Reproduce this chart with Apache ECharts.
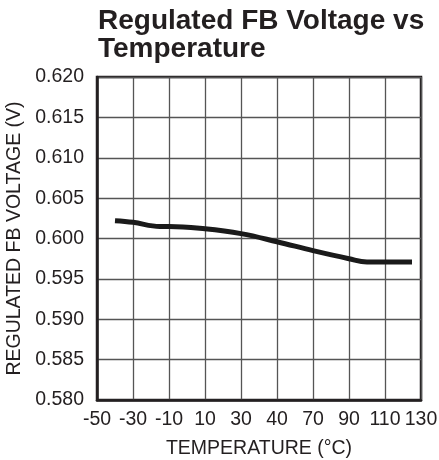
<!DOCTYPE html>
<html>
<head>
<meta charset="utf-8">
<script src="https://cdn.jsdelivr.net/npm/echarts@6/dist/echarts.min.js"></script>
<style>html,body{margin:0;padding:0;background:#fff}#c{width:439px;height:460px}</style>
</head>
<body>
<div id="c"></div>
<script>
var titleText = "Regulated FB Voltage vs\nTemperature";
var xTickLabels = ["-50", "-30", "-10", "10", "30", "40", "70", "90", "110", "130"];
var yTickLabels = ["0.580", "0.585", "0.590", "0.595", "0.600", "0.605", "0.610", "0.615", "0.620"];
var temperature = [-40, -30, -15, -10, 10, 30, 50, 70, 90, 100, 110, 125];
var fbVoltage = [0.6022, 0.6020, 0.6015, 0.6015, 0.6012, 0.6006, 0.5996, 0.5985, 0.5975, 0.5971, 0.5971, 0.5971];

var chart = echarts.init(document.getElementById('c'), null, {renderer: 'canvas'});
var font = 'Liberation Sans, Arial, Helvetica, sans-serif';
var data = temperature.map(function (t, i) { return [t, fbVoltage[i]]; });
chart.setOption({
  animation: false,
  backgroundColor: '#ffffff',
  title: {
    text: titleText,
    left: 93,
    top: 2,
    textStyle: {fontFamily: font, fontWeight: 'bold', fontSize: 28, lineHeight: 28, color: '#231f20'}
  },
  grid: {left: 97, right: 18, top: 77, bottom: 60, outerBoundsMode: 'none', containLabel: false, show: true, borderColor: '#231f20', borderWidth: 2.5, backgroundColor: 'transparent'},
  xAxis: {
    type: 'value',
    min: -50, max: 130, interval: 20,
    name: 'TEMPERATURE (°C)',
    nameLocation: 'middle',
    nameGap: 39,
    nameTextStyle: {fontFamily: font, fontSize: 19.5, color: '#231f20'},
    axisLine: {show: true, onZero: false, lineStyle: {color: '#231f20', width: 2.5}},
    axisTick: {show: false},
    axisLabel: {
      fontFamily: font, fontSize: 19.5, color: '#231f20', margin: 10,
      formatter: function (v) { var i = Math.round((v + 50) / 20); return xTickLabels[i] || ''; }
    },
    splitLine: {show: true, lineStyle: {color: '#555555', width: 1.3}}
  },
  yAxis: {
    type: 'value',
    min: 0.580, max: 0.620, interval: 0.005,
    name: 'REGULATED FB VOLTAGE (V)',
    nameLocation: 'middle',
    nameGap: 70,
    nameTextStyle: {fontFamily: font, fontSize: 19.5, color: '#231f20'},
    axisLine: {show: true, onZero: false, lineStyle: {color: '#231f20', width: 2.5}},
    axisTick: {show: false},
    axisLabel: {
      fontFamily: font, fontSize: 19.5, color: '#231f20', margin: 13,
      formatter: function (v) { var i = Math.round((v - 0.580) / 0.005); return yTickLabels[i] || ''; }
    },
    splitLine: {show: true, lineStyle: {color: '#555555', width: 1.3}}
  },
  series: [{
    type: 'line',
    data: data,
    smooth: 0.4,
    showSymbol: false,
    lineStyle: {color: '#1a1a1a', width: 5, cap: 'butt'}
  }]
});
</script>
</body>
</html>
